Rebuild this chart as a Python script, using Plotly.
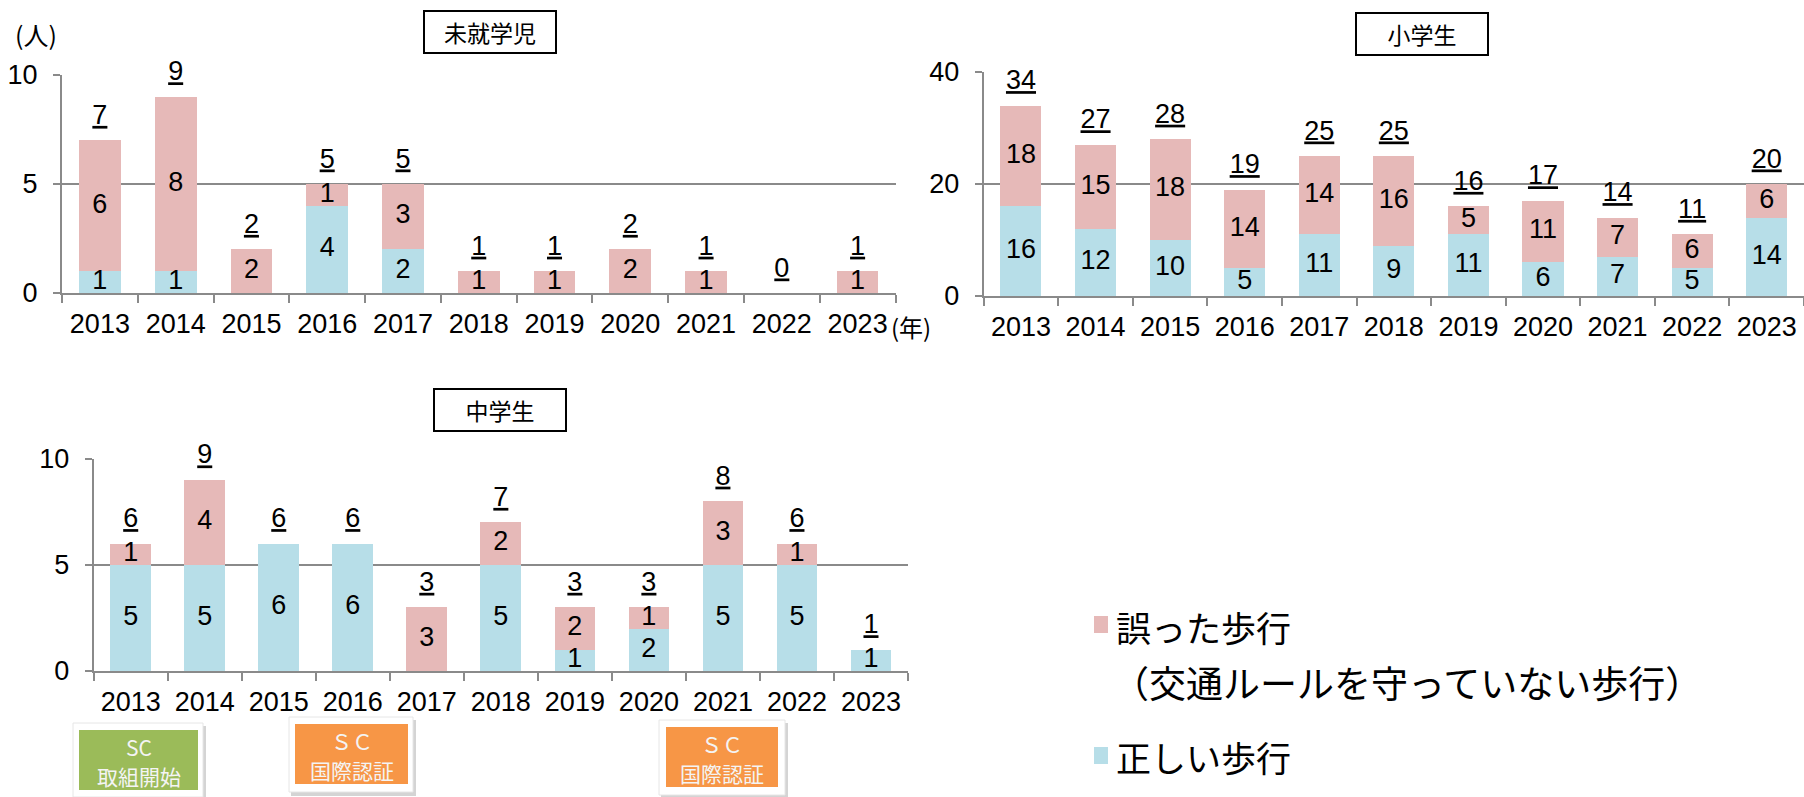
import plotly.graph_objects as go

# ---------------- data ----------------
years = ["2013", "2014", "2015", "2016", "2017", "2018", "2019", "2020", "2021", "2022", "2023"]

# 未就学児
pre_correct = [1, 1, 0, 4, 2, 0, 0, 0, 0, 0, 0]
pre_wrong = [6, 8, 2, 1, 3, 1, 1, 2, 1, 0, 1]
# 小学生
ele_correct = [16, 12, 10, 5, 11, 9, 11, 6, 7, 5, 14]
ele_wrong = [18, 15, 18, 14, 14, 16, 5, 11, 7, 6, 6]
# 中学生
jhs_correct = [5, 5, 6, 6, 0, 5, 1, 2, 5, 5, 1]
jhs_wrong = [1, 4, 0, 0, 3, 2, 2, 1, 3, 1, 0]

panel_titles = ["未就学児", "小学生", "中学生"]
legend_wrong = "誤った歩行"
legend_wrong_sub = "（交通ルールを守っていない歩行）"
legend_correct = "正しい歩行"

# ---------------- style ----------------
W, H = 1804, 797
PINK = "#E6B9B8"
BLUE = "#B7DEE8"
GRID = "#8A8A8A"
GREEN = "#9BBB59"
ORANGE = "#F79646"
NUM_FONT = "Liberation Sans, Arial, sans-serif"
JP_FONT = "Noto Sans CJK JP, sans-serif"
NUM_SIZE = 27


def px(x):
    return x / W


def py(y):
    return 1 - y / H


panels = [
    dict(correct=pre_correct, wrong=pre_wrong, xd=(62, 895.5), yd=(293, 75), yr=10, dtick=5),
    dict(correct=ele_correct, wrong=ele_wrong, xd=(983.7, 1804), yd=(296, 72), yr=40, dtick=20),
    dict(correct=jhs_correct, wrong=jhs_wrong, xd=(93.7, 908), yd=(671, 458.7), yr=10, dtick=5),
]

fig = go.Figure()
layout_axes = {}
for i, p in enumerate(panels):
    sfx = "" if i == 0 else str(i + 1)
    xa, ya = "x" + sfx, "y" + sfx
    c, w = p["correct"], p["wrong"]
    fig.add_trace(go.Bar(x=years, y=c, marker=dict(color=BLUE, line=dict(width=0)),
                         xaxis=xa, yaxis=ya, showlegend=False, hoverinfo="skip"))
    fig.add_trace(go.Bar(x=years, y=w, marker=dict(color=PINK, line=dict(width=0)),
                         xaxis=xa, yaxis=ya, showlegend=False, hoverinfo="skip"))
    # inner labels
    cx = [yr for yr, v in zip(years, c) if v > 0]
    cy = [v / 2 for v in c if v > 0]
    ct = [str(v) for v in c if v > 0]
    wx = [yr for yr, a, b in zip(years, c, w) if b > 0]
    wy = [a + b / 2 for a, b in zip(c, w) if b > 0]
    wt = [str(b) for b in w if b > 0]
    fig.add_trace(go.Scatter(x=cx + wx, y=cy + wy, text=ct + wt, mode="text",
                             textposition="middle center",
                             textfont=dict(family=NUM_FONT, size=NUM_SIZE, color="black"),
                             xaxis=xa, yaxis=ya, showlegend=False, hoverinfo="skip",
                             cliponaxis=False))
    totals = [a + b for a, b in zip(c, w)]
    fig.add_trace(go.Scatter(x=years, y=totals, text=[str(t) for t in totals],
                             mode="markers+text", textposition="top center",
                             marker=dict(size=14, color="rgba(0,0,0,0)"),
                             textfont=dict(family=NUM_FONT, size=NUM_SIZE, color="black",
                                           lineposition="under"),
                             xaxis=xa, yaxis=ya, showlegend=False, hoverinfo="skip",
                             cliponaxis=False))
    xkey = "xaxis" + sfx
    ykey = "yaxis" + sfx
    layout_axes[xkey] = dict(
        domain=[px(p["xd"][0]), px(p["xd"][1])], anchor=ya, type="category",
        range=[-0.5, 10.5], showline=True, linecolor=GRID, linewidth=2,
        ticks="outside", tickson="boundaries", ticklen=8, tickwidth=2, tickcolor=GRID,
        showgrid=False, zeroline=False, ticklabelstandoff=6, tickangle=0, automargin=False,
        tickfont=dict(family=NUM_FONT, size=NUM_SIZE, color="black"), fixedrange=True)
    layout_axes[ykey] = dict(
        domain=[py(p["yd"][0]), py(p["yd"][1])], anchor=xa, range=[0, p["yr"]],
        dtick=p["dtick"], tick0=0, showline=True, linecolor=GRID, linewidth=2,
        ticks="outside", ticklen=7, tickwidth=2, tickcolor=GRID, automargin=False,
        showgrid=True, gridcolor=GRID, gridwidth=2, zeroline=False, ticklabelstandoff=10,
        tickfont=dict(family=NUM_FONT, size=NUM_SIZE, color="black"), fixedrange=True)

annotations = []
shapes = []

# panel title boxes
for title, (cx, cy) in zip(panel_titles, [(490, 32), (1422, 34), (500, 410)]):
    annotations.append(dict(
        x=px(cx), y=py(cy), xref="paper", yref="paper", text=title, showarrow=False,
        xanchor="center", yanchor="middle", width=128, height=38, borderpad=1,
        bordercolor="black", borderwidth=2, bgcolor="white",
        font=dict(family=JP_FONT, size=23, color="black")))

# unit labels
annotations.append(dict(x=px(36), y=py(34), xref="paper", yref="paper", text="(人)",
                        showarrow=False, xanchor="center", yanchor="middle",
                        font=dict(family=JP_FONT, size=25, color="black")))
annotations.append(dict(x=px(889), y=py(326), xref="paper", yref="paper", text="(年)",
                        showarrow=False, xanchor="left", yanchor="middle",
                        font=dict(family=JP_FONT, size=24, color="black")))

# SC boxes
sc_boxes = [
    dict(outer=(73, 723, 203, 797), inner=(79, 730, 198, 790), color=GREEN,
         l1="SC", l2="取組開始"),
    dict(outer=(289, 717, 413, 792), inner=(295, 724, 408, 784), color=ORANGE,
         l1="ＳＣ", l2="国際認証"),
    dict(outer=(659, 720, 785, 795), inner=(666, 727, 778, 787), color=ORANGE,
         l1="ＳＣ", l2="国際認証"),
]
for b in sc_boxes:
    x0, y0, x1, y1 = b["outer"]
    shapes.append(dict(type="rect", xref="paper", yref="paper", x0=px(x0 + 2), x1=px(x1 + 3),
                       y0=py(y1 + 4), y1=py(y0 + 3), fillcolor="#D4D4D4", line=dict(width=0),
                       layer="above"))
    shapes.append(dict(type="rect", xref="paper", yref="paper", x0=px(x0), x1=px(x1),
                       y0=py(y1), y1=py(y0), fillcolor="white",
                       line=dict(color="#E6E6E6", width=1), layer="above"))
    ix0, iy0, ix1, iy1 = b["inner"]
    shapes.append(dict(type="rect", xref="paper", yref="paper", x0=px(ix0), x1=px(ix1),
                       y0=py(iy1), y1=py(iy0), fillcolor=b["color"], line=dict(width=0),
                       layer="above"))
    cxm = (ix0 + ix1) / 2
    annotations.append(dict(x=px(cxm), y=py(iy0 + 17), xref="paper", yref="paper", text=b["l1"],
                            showarrow=False, xanchor="center", yanchor="middle",
                            font=dict(family=JP_FONT, size=21, color="#F4F4F4")))
    annotations.append(dict(x=px(cxm), y=py(iy0 + 46), xref="paper", yref="paper", text=b["l2"],
                            showarrow=False, xanchor="center", yanchor="middle",
                            font=dict(family=JP_FONT, size=21, color="#F4F4F4")))

# legend
shapes.append(dict(type="rect", xref="paper", yref="paper", x0=px(1094), x1=px(1108),
                   y0=py(633), y1=py(616), fillcolor=PINK, line=dict(width=0)))
shapes.append(dict(type="rect", xref="paper", yref="paper", x0=px(1094), x1=px(1108),
                   y0=py(764), y1=py(747), fillcolor=BLUE, line=dict(width=0)))
annotations.append(dict(x=px(1114), y=py(626), xref="paper", yref="paper", text=legend_wrong,
                        showarrow=False, xanchor="left", yanchor="middle",
                        font=dict(family=JP_FONT, size=35, color="black")))
annotations.append(dict(x=px(1110), y=py(682), xref="paper", yref="paper", text=legend_wrong_sub,
                        showarrow=False, xanchor="left", yanchor="middle",
                        font=dict(family=JP_FONT, size=37, color="black")))
annotations.append(dict(x=px(1114), y=py(756), xref="paper", yref="paper", text=legend_correct,
                        showarrow=False, xanchor="left", yanchor="middle",
                        font=dict(family=JP_FONT, size=35, color="black")))

fig.update_layout(
    template="none",
    width=W, height=H, margin=dict(l=0, r=0, t=0, b=0, pad=0, autoexpand=False),
    paper_bgcolor="white", plot_bgcolor="white",
    barmode="stack", bargap=0.45, showlegend=False,
    annotations=annotations, shapes=shapes,
    **layout_axes,
)

fig.write_html(
    "out.html",
    config={"displayModeBar": False},
    post_script="document.body.style.margin='0';document.body.style.overflow='hidden';",
)
